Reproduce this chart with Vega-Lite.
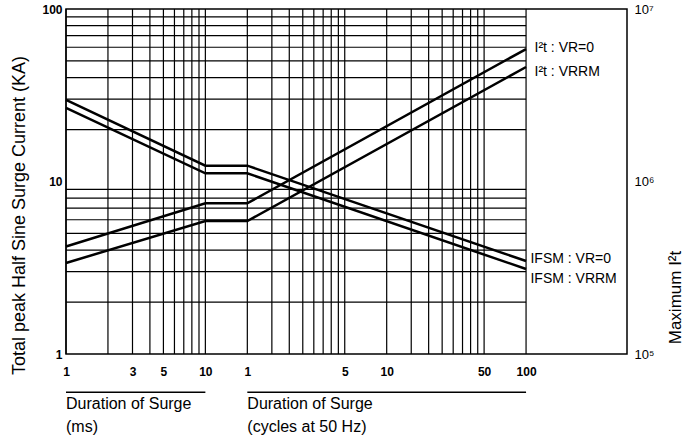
{
  "$schema": "https://vega.github.io/schema/vega-lite/v6.json",
  "width": 561,
  "height": 345,
  "autosize": "none",
  "padding": {"left": 66, "top": 9, "right": 67, "bottom": 86},
  "background": "white",
  "config": {
    "font": "Liberation Sans",
    "view": {"stroke": "black", "strokeWidth": 1.5},
    "axis": {"domain": false, "ticks": false, "grid": false, "labelColor": "black", "titleColor": "black", "labelFont": "Liberation Sans", "titleFont": "Liberation Sans", "labelFlush": false, "labelOverlap": false, "titleFontWeight": "normal"}
  },
  "datasets": {
    "vgrid": [{"ms": 1}, {"ms": 2}, {"ms": 3}, {"ms": 4}, {"ms": 5}, {"ms": 6}, {"ms": 7}, {"ms": 8}, {"ms": 9}, {"ms": 10},
              {"ms": 20}, {"ms": 30}, {"ms": 40}, {"ms": 50}, {"ms": 60}, {"ms": 70}, {"ms": 80}, {"ms": 90}, {"ms": 100},
              {"ms": 200}, {"ms": 300}, {"ms": 400}, {"ms": 500}, {"ms": 600}, {"ms": 700}, {"ms": 800}, {"ms": 900}, {"ms": 1000}, {"ms": 2000}],
    "hgrid": [{"ka": 2}, {"ka": 3}, {"ka": 4}, {"ka": 5}, {"ka": 6}, {"ka": 7}, {"ka": 8}, {"ka": 9},
              {"ka": 20}, {"ka": 30}, {"ka": 40}, {"ka": 50}, {"ka": 60}, {"ka": 70}, {"ka": 80}, {"ka": 90}],
    "ifsm": [
      {"series": "IFSM : VR=0", "ms": 1, "ka": 29.7},
      {"series": "IFSM : VR=0", "ms": 10, "ka": 12.35},
      {"series": "IFSM : VR=0", "ms": 20, "ka": 12.35},
      {"series": "IFSM : VR=0", "ms": 2000, "ka": 3.46},
      {"series": "IFSM : VRRM", "ms": 1, "ka": 26.7},
      {"series": "IFSM : VRRM", "ms": 10, "ka": 11.16},
      {"series": "IFSM : VRRM", "ms": 20, "ka": 11.16},
      {"series": "IFSM : VRRM", "ms": 2000, "ka": 3.11}
    ],
    "i2t": [
      {"series": "I²t : VR=0", "ms": 1, "i2t": 420000},
      {"series": "I²t : VR=0", "ms": 10, "i2t": 747000},
      {"series": "I²t : VR=0", "ms": 20, "i2t": 747000},
      {"series": "I²t : VR=0", "ms": 2000, "i2t": 5860000},
      {"series": "I²t : VRRM", "ms": 1, "i2t": 337000},
      {"series": "I²t : VRRM", "ms": 10, "i2t": 590000},
      {"series": "I²t : VRRM", "ms": 20, "i2t": 590000},
      {"series": "I²t : VRRM", "ms": 2000, "i2t": 4610000}
    ],
    "labels": [
      {"label": "I²t : VR=0", "ms": 2300, "ka": 59.4},
      {"label": "I²t : VRRM", "ms": 2300, "ka": 43.1},
      {"label": "IFSM : VR=0", "ms": 2150, "ka": 3.55},
      {"label": "IFSM : VRRM", "ms": 2150, "ka": 2.72}
    ],
    "groups": [
      {"ms": 1, "ms2": 10, "caption": "Duration of Surge\n(ms)"},
      {"ms": 20, "ms2": 2000, "caption": "Duration of Surge\n(cycles at 50 Hz)"}
    ]
  },
  "layer": [
    {
      "data": {"name": "vgrid"},
      "mark": {"type": "rule", "color": "black", "strokeWidth": 1.2},
      "encoding": {
        "x": {"field": "ms", "type": "quantitative", "scale": {"type": "log", "domain": [1, 10600], "nice": false},
              "axis": {"values": [1, 3, 5, 10, 20, 100, 200, 1000, 2000], "labelExpr": "'' + (datum.value <= 10 ? datum.value : datum.value / 20)", "labelFontSize": 12, "labelFontWeight": "bold", "labelPadding": 12, "title": null}}
      }
    },
    {
      "data": {"name": "hgrid"},
      "mark": {"type": "rule", "color": "black", "strokeWidth": 1.2},
      "encoding": {
        "y": {"field": "ka", "type": "quantitative", "scale": {"type": "log", "domain": [1, 100], "nice": false}, "axis": null},
        "x": {"datum": 1, "type": "quantitative", "scale": {"type": "log", "domain": [1, 10600], "nice": false},
              "axis": {"values": [1, 3, 5, 10, 20, 100, 200, 1000, 2000], "labelExpr": "'' + (datum.value <= 10 ? datum.value : datum.value / 20)", "labelFontSize": 12, "labelFontWeight": "bold", "labelPadding": 12, "title": null}},
        "x2": {"datum": 2000}
      }
    },
    {
      "mark": {"type": "rule", "color": "black", "strokeWidth": 1.4},
      "encoding": {
        "y": {"datum": 10, "type": "quantitative", "scale": {"type": "log", "domain": [1, 100], "nice": false}, "axis": null}
      }
    },
    {
      "data": {"name": "ifsm"},
      "mark": {"type": "line", "color": "black", "strokeWidth": 2.5},
      "encoding": {
        "x": {"field": "ms", "type": "quantitative", "scale": {"type": "log", "domain": [1, 10600], "nice": false},
              "axis": {"values": [1, 3, 5, 10, 20, 100, 200, 1000, 2000], "labelExpr": "'' + (datum.value <= 10 ? datum.value : datum.value / 20)", "labelFontSize": 12, "labelFontWeight": "bold", "labelPadding": 12, "title": null}},
        "y": {"field": "ka", "type": "quantitative", "scale": {"type": "log", "domain": [1, 100], "nice": false},
              "axis": {"values": [1, 10, 100], "format": "d", "labelFontSize": 12, "labelFontWeight": "bold", "labelPadding": 4, "title": "Total peak Half Sine Surge Current (KA)", "titleFontSize": 18, "titlePadding": 13, "titleY": 206}},
        "detail": {"field": "series"}
      }
    },
    {
      "data": {"name": "i2t"},
      "mark": {"type": "line", "color": "black", "strokeWidth": 2.5},
      "encoding": {
        "x": {"field": "ms", "type": "quantitative", "scale": {"type": "log", "domain": [1, 10600], "nice": false},
              "axis": {"values": [1, 3, 5, 10, 20, 100, 200, 1000, 2000], "labelExpr": "'' + (datum.value <= 10 ? datum.value : datum.value / 20)", "labelFontSize": 12, "labelFontWeight": "bold", "labelPadding": 12, "title": null}},
        "y": {"field": "i2t", "type": "quantitative", "scale": {"type": "log", "domain": [100000, 10000000], "nice": false},
              "axis": {"orient": "right", "values": [100000, 1000000, 10000000], "labelExpr": "datum.value < 500000 ? '10⁵' : datum.value < 5000000 ? '10⁶' : '10⁷'", "labelFontSize": 13, "labelPadding": 7, "title": "Maximum I²t", "titleFontSize": 17, "titleAngle": 270, "titleBaseline": "top", "titlePadding": 14, "titleY": 288}},
        "detail": {"field": "series"}
      }
    },
    {
      "data": {"name": "labels"},
      "mark": {"type": "text", "align": "left", "baseline": "middle", "fontSize": 14, "color": "black"},
      "encoding": {
        "x": {"field": "ms", "type": "quantitative", "scale": {"type": "log", "domain": [1, 10600], "nice": false},
              "axis": {"values": [1, 3, 5, 10, 20, 100, 200, 1000, 2000], "labelExpr": "'' + (datum.value <= 10 ? datum.value : datum.value / 20)", "labelFontSize": 12, "labelFontWeight": "bold", "labelPadding": 12, "title": null}},
        "y": {"field": "ka", "type": "quantitative", "scale": {"type": "log", "domain": [1, 100], "nice": false}, "axis": null},
        "text": {"field": "label"}
      }
    },
    {
      "data": {"name": "groups"},
      "mark": {"type": "rule", "color": "black", "strokeWidth": 1.3},
      "encoding": {
        "x": {"field": "ms", "type": "quantitative", "scale": {"type": "log", "domain": [1, 10600], "nice": false},
              "axis": {"values": [1, 3, 5, 10, 20, 100, 200, 1000, 2000], "labelExpr": "'' + (datum.value <= 10 ? datum.value : datum.value / 20)", "labelFontSize": 12, "labelFontWeight": "bold", "labelPadding": 12, "title": null}},
        "x2": {"field": "ms2"},
        "y": {"datum": 0.6, "type": "quantitative", "scale": {"type": "log", "domain": [1, 100], "nice": false}, "axis": null}
      }
    },
    {
      "data": {"name": "groups"},
      "mark": {"type": "text", "align": "left", "baseline": "top", "fontSize": 16, "lineBreak": "\n", "lineHeight": 23, "color": "black"},
      "encoding": {
        "x": {"field": "ms", "type": "quantitative", "scale": {"type": "log", "domain": [1, 10600], "nice": false},
              "axis": {"values": [1, 3, 5, 10, 20, 100, 200, 1000, 2000], "labelExpr": "'' + (datum.value <= 10 ? datum.value : datum.value / 20)", "labelFontSize": 12, "labelFontWeight": "bold", "labelPadding": 12, "title": null}},
        "y": {"datum": 0.57, "type": "quantitative", "scale": {"type": "log", "domain": [1, 100], "nice": false}, "axis": null},
        "text": {"field": "caption"}
      }
    }
  ],
  "resolve": {"scale": {"y": "independent"}}
}
